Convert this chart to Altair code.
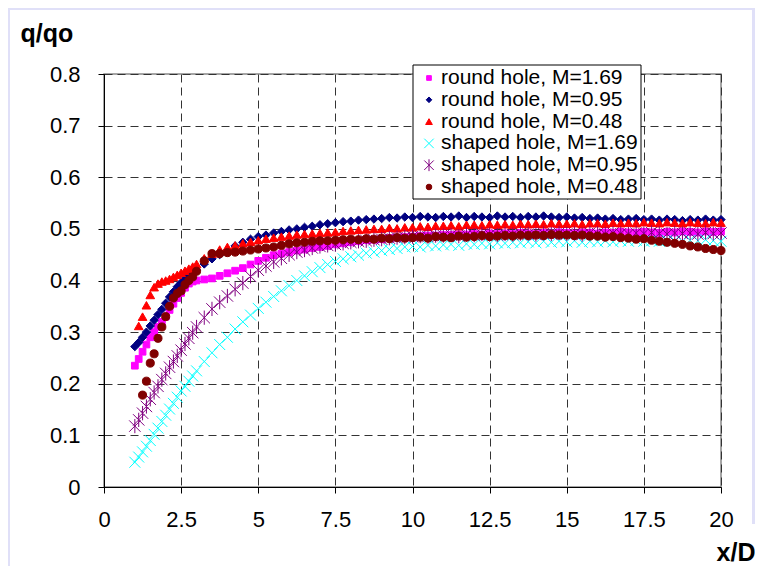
import altair as alt
import pandas as pd

SERIES = ["round hole, M=1.69", "round hole, M=0.95", "round hole, M=0.48",
          "shaped hole, M=1.69", "shaped hole, M=0.95", "shaped hole, M=0.48"]
COLORS = ["#FF00FF", "#000080", "#FF0000", "#00FFFF", "#800080", "#800000"]
FILLS = ["#FF00FF", "#000080", "#FF0000", "transparent", "transparent", "#800000"]
X_PATH = "M-1,-1L1,1M-1,1L1,-1"
AST_PATH = "M-1,-1L1,1M-1,1L1,-1M0,-1.25L0,1.25"
SHAPES = ["square", "diamond", "triangle-up", X_PATH, AST_PATH, "circle"]
SIZES = [45, 70, 75, 120, 130, 65]
LEGEND_SIZES = [22, 32, 45, 90, 90, 32]
WIDTHS = [1, 1, 1, 1.6, 1.6, 1]

# x/D sampling positions (1 to 2.875 step 0.125, 3 to 20 step 0.25)
X_POS = [1 + 0.125 * i for i in range(16)] + [3 + 0.25 * i for i in range(69)]

round_169 = [.235, .248, .262, .276, .29, .30, .31, .32, .33, .343, .355, .366, .376, .386, .394, .398,
             .400, .402, .404, .409, .414, .419, .424, .431, .438, .444, .449, .452,
             .455, .458, .460, .463, .465, .467, .470, .472, .474, .476, .478, .479,
             .480, .482, .483, .484, .485, .486, .487, .487, .488, .488, .489, .489,
             .490, .489, .491, .490, .491, .490, .492, .491, .490, .492, .491, .493,
             .492, .491, .493, .492, .491, .493, .492, .494, .493, .492, .494, .493,
             .492, .494, .493, .495, .494, .493, .495, .494, .495]
round_095 = [.272, .28, .29, .30, .312, .323, .334, .344, .356, .368, .378, .388, .396, .403, .41, .415,
             .420, .432, .442, .450, .459, .467, .474, .480, .485, .488, .492, .495,
             .498, .500, .503, .505, .508, .510, .512, .514, .515, .517, .518, .519,
             .520, .522, .521, .523, .522, .524, .523, .522, .524, .523, .525, .522,
             .524, .523, .522, .525, .523, .524, .522, .524, .523, .525, .523, .522,
             .523, .521, .522, .520, .521, .519, .520, .518, .519, .520, .518, .519,
             .517, .519, .518, .516, .518, .517, .519, .517, .518]
round_048 = [None, .312, .33, .352, .372, .387, .394, .398, .40, .403, .407, .411, .415, .419, .423, .427,
             .432, .443, .452, .460, .465, .468, .472, .475, .478, .481, .483, .485,
             .487, .489, .490, .491, .492, .493, .494, .496, .497, .498, .499, .500,
             .500, .502, .501, .503, .503, .505, .504, .506, .506, .507, .505, .508,
             .508, .507, .509, .508, .509, .508, .510, .509, .510, .509, .511, .510,
             .510, .511, .509, .511, .511, .510, .512, .511, .512, .511, .513, .512,
             .511, .513, .512, .511, .513, .512, .511, .513, .512]
shaped_169 = [.048, .058, .068, .079, .09, .102, .114, .127, .139, .151, .162, .174, .186, .195, .205, .215,
              .225, .243, .260, .276, .290, .306, .320, .333, .346, .358, .369, .380,
              .390, .400, .409, .417, .425, .431, .437, .442, .446, .449, .453, .455,
              .458, .460, .462, .465, .466, .465, .468, .467, .469, .470, .468, .471,
              .470, .472, .471, .473, .472, .474, .473, .475, .473, .476, .474, .476,
              .475, .477, .474, .476, .475, .477, .475, .477, .476, .478, .476, .477,
              .476, .478, .477, .476, .478, .477, .479, .477, .476]
shaped_095 = [.118, .13, .143, .156, .17, .183, .195, .208, .22, .232, .243, .254, .265, .277, .288, .299,
              .310, .328, .345, .358, .370, .383, .395, .408, .420, .428, .436, .443,
              .450, .455, .459, .463, .466, .468, .470, .472, .474, .476, .477, .479,
              .480, .482, .483, .484, .485, .486, .485, .487, .487, .488, .486, .489,
              .488, .490, .489, .488, .490, .489, .491, .490, .489, .491, .490, .492,
              .490, .491, .489, .492, .491, .490, .492, .491, .490, .492, .491, .493,
              .491, .490, .492, .491, .492, .490, .493, .491, .492]
shaped_048 = [None, None, .178, .205, .24, .258, .288, .31, .33, .35, .366, .375, .38, .392, .40, .407,
              .418, .438, .452, .452, .454, .455, .457, .459, .461, .463, .465, .468,
              .471, .473, .474, .476, .477, .477, .478, .479, .480, .479, .481, .480,
              .482, .481, .483, .482, .483, .484, .482, .485, .484, .483, .486, .484,
              .485, .487, .485, .486, .487, .486, .488, .487, .488, .487, .489, .488,
              .488, .487, .488, .486, .486, .484, .485, .483, .482, .480, .481, .478,
              .476, .474, .472, .470, .467, .465, .462, .460, .458]

Y_LISTS = [round_169, round_095, round_048, shaped_169, shaped_095, shaped_048]

rows = []
for name, ys, sz in zip(SERIES, Y_LISTS, SIZES):
    assert len(ys) == len(X_POS), (name, len(ys))
    for xv, yv in zip(X_POS, ys):
        if yv is not None:
            rows.append({"x": xv, "y": yv, "series": name, "msize": sz})
df = pd.DataFrame(rows)
legend_df = pd.DataFrame({"series": SERIES, "msize": LEGEND_SIZES})

FONT = "Liberation Sans"
X_TICKS = [0, 2.5, 5, 7.5, 10, 12.5, 15, 17.5, 20]
Y_TICKS = [0, 0.1, 0.2, 0.3, 0.4, 0.5, 0.6, 0.7, 0.8]

xscale = alt.Scale(domain=[0, 20], nice=False)
yscale = alt.Scale(domain=[0, 0.8], nice=False)

shape_enc = alt.Shape("series:N", scale=alt.Scale(domain=SERIES, range=SHAPES), legend=None)
fill_enc = alt.Fill("series:N", scale=alt.Scale(domain=SERIES, range=FILLS), legend=None)
stroke_enc = alt.Stroke("series:N", scale=alt.Scale(domain=SERIES, range=COLORS), legend=None)
sw_enc = alt.StrokeWidth("series:N", scale=alt.Scale(domain=SERIES, range=WIDTHS), legend=None)
size_enc = alt.Size("msize:Q", scale=None, legend=None)

# lavender frame strips around the white chart panel
LAV = "#E0E0F8"
one = alt.Data(values=[{}])
top_strip = alt.Chart(one).mark_rect(color=LAV).encode(
    x=alt.value(-96), x2=alt.value(651), y=alt.value(-66), y2=alt.value(-64))
left_strip = alt.Chart(one).mark_rect(color=LAV).encode(
    x=alt.value(-96), x2=alt.value(-94), y=alt.value(-66), y2=alt.value(492))
right_strip = alt.Chart(one).mark_rect(color=LAV).encode(
    x=alt.value(648), x2=alt.value(651), y=alt.value(-66), y2=alt.value(450))

points = alt.Chart(df).mark_point(opacity=1).encode(
    x=alt.X("x:Q", scale=xscale,
            axis=alt.Axis(values=X_TICKS, labelExpr="'' + datum.value", labelFlush=False,
                          title="x/D", titleX=651, titleY=65, titleAlign="right",
                          titleBaseline="middle", titleAngle=0)),
    y=alt.Y("y:Q", scale=yscale,
            axis=alt.Axis(values=Y_TICKS, labelExpr="'' + datum.value", labelFlush=False,
                          title="q/qo", titleX=-84, titleY=-41, titleAlign="left",
                          titleBaseline="middle", titleAngle=0)),
    shape=shape_enc, fill=fill_enc, stroke=stroke_enc, strokeWidth=sw_enc, size=size_enc,
)

# legend drawn as its own layers (box, symbols, labels)
leg_y = alt.Y("series:N", scale=alt.Scale(domain=SERIES, type="point", range=[4, 113], padding=0),
              axis=None)
leg_box = alt.Chart(one).mark_rect(fill="white", stroke="black", strokeWidth=1).encode(
    x=alt.value(309), x2=alt.value(537), y=alt.value(-9), y2=alt.value(125))
leg_sym = alt.Chart(legend_df).mark_point(opacity=1).encode(
    x=alt.value(325), y=leg_y,
    shape=shape_enc, fill=fill_enc, stroke=stroke_enc, strokeWidth=sw_enc, size=size_enc,
)
leg_txt = alt.Chart(legend_df).mark_text(
    align="left", baseline="middle", font=FONT, fontSize=21, color="black").encode(
    x=alt.value(337), y=leg_y, text="series:N")

chart = alt.layer(top_strip, left_strip, right_strip, points, leg_box, leg_sym, leg_txt).resolve_scale(
    y="independent"
).properties(
    width=617, height=413, padding=0, background="white"
).configure_view(
    stroke="#888888", strokeWidth=1.5
).configure_axis(
    labelFont=FONT, labelFontSize=22, labelColor="black",
    titleFont=FONT, titleFontSize=25, titleFontWeight="bold", titleColor="black",
    domainColor="black", domainWidth=1, tickColor="black", tickSize=6,
    gridColor="#333333", gridDash=[8, 5], gridWidth=1,
).configure_axisX(
    labelPadding=16
).configure_axisY(
    labelPadding=18
)

chart.save("out.html", embed_options={"renderer": "svg", "actions": False})
